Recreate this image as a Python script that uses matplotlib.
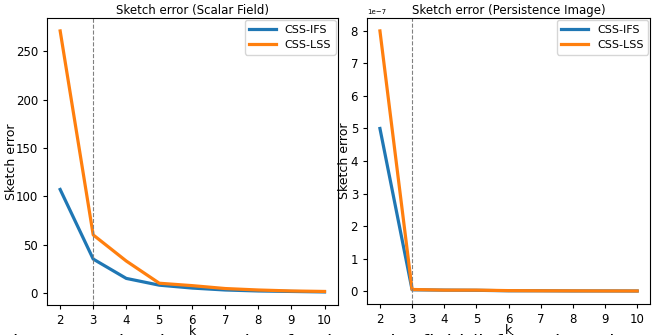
import matplotlib
matplotlib.use("Agg")
import matplotlib.pyplot as plt

k = [2, 3, 4, 5, 6, 7, 8, 9, 10]

# scalar field sketch error
sf_ifs = [107, 35, 15, 8, 5, 3, 2, 1.5, 1]
sf_lss = [271, 60, 33, 10, 7.5, 4.5, 3, 2, 1.5]

# persistence image sketch error
pi_ifs = [5.0e-7, 0.04e-7, 0.03e-7, 0.025e-7, 0.01e-7, 0.01e-7, 0.005e-7, 0.005e-7, 0.003e-7]
pi_lss = [8.0e-7, 0.05e-7, 0.03e-7, 0.03e-7, 0.015e-7, 0.01e-7, 0.008e-7, 0.005e-7, 0.004e-7]

k_chosen = 3

fig = plt.figure(figsize=(6.52, 3.35), dpi=100)
ax1 = fig.add_axes([0.072, 0.0896, 0.446, 0.857])
ax2 = fig.add_axes([0.563, 0.0925, 0.434, 0.854])

panels = [
    (ax1, sf_ifs, sf_lss, "Sketch error (Scalar Field)", -2),
    (ax2, pi_ifs, pi_lss, "Sketch error (Persistence Image)", 0),
]
for ax, ifs, lss, title, pad in panels:
    ax.plot(k, ifs, color="#1f77b4", lw=2.3, label="CSS-IFS")
    ax.plot(k, lss, color="#ff7f0e", lw=2.3, label="CSS-LSS")
    ax.axvline(k_chosen, color="gray", ls="--", lw=0.8)
    ax.set_xticks(k)
    ax.set_title(title, fontsize=8.5, pad=3)
    ax.set_xlabel("k", fontsize=9, labelpad=-1.5)
    ax.set_ylabel("Sketch error", fontsize=9, labelpad=pad)
    ax.tick_params(labelsize=8.5, length=3)
    ax.legend(loc="upper right", fontsize=8, handlelength=2.4,
              borderaxespad=0.2, framealpha=0.8)

ax2.yaxis.get_offset_text().set_fontsize(5)

# figure caption, only its top edge falls inside the canvas
fig.text(0.004, 0.003, "Figure 14: Sketch error plots for the scalar field (left) and persistence image",
         fontsize=14, va="top", ha="left")

fig.savefig("out.png", dpi=100)
